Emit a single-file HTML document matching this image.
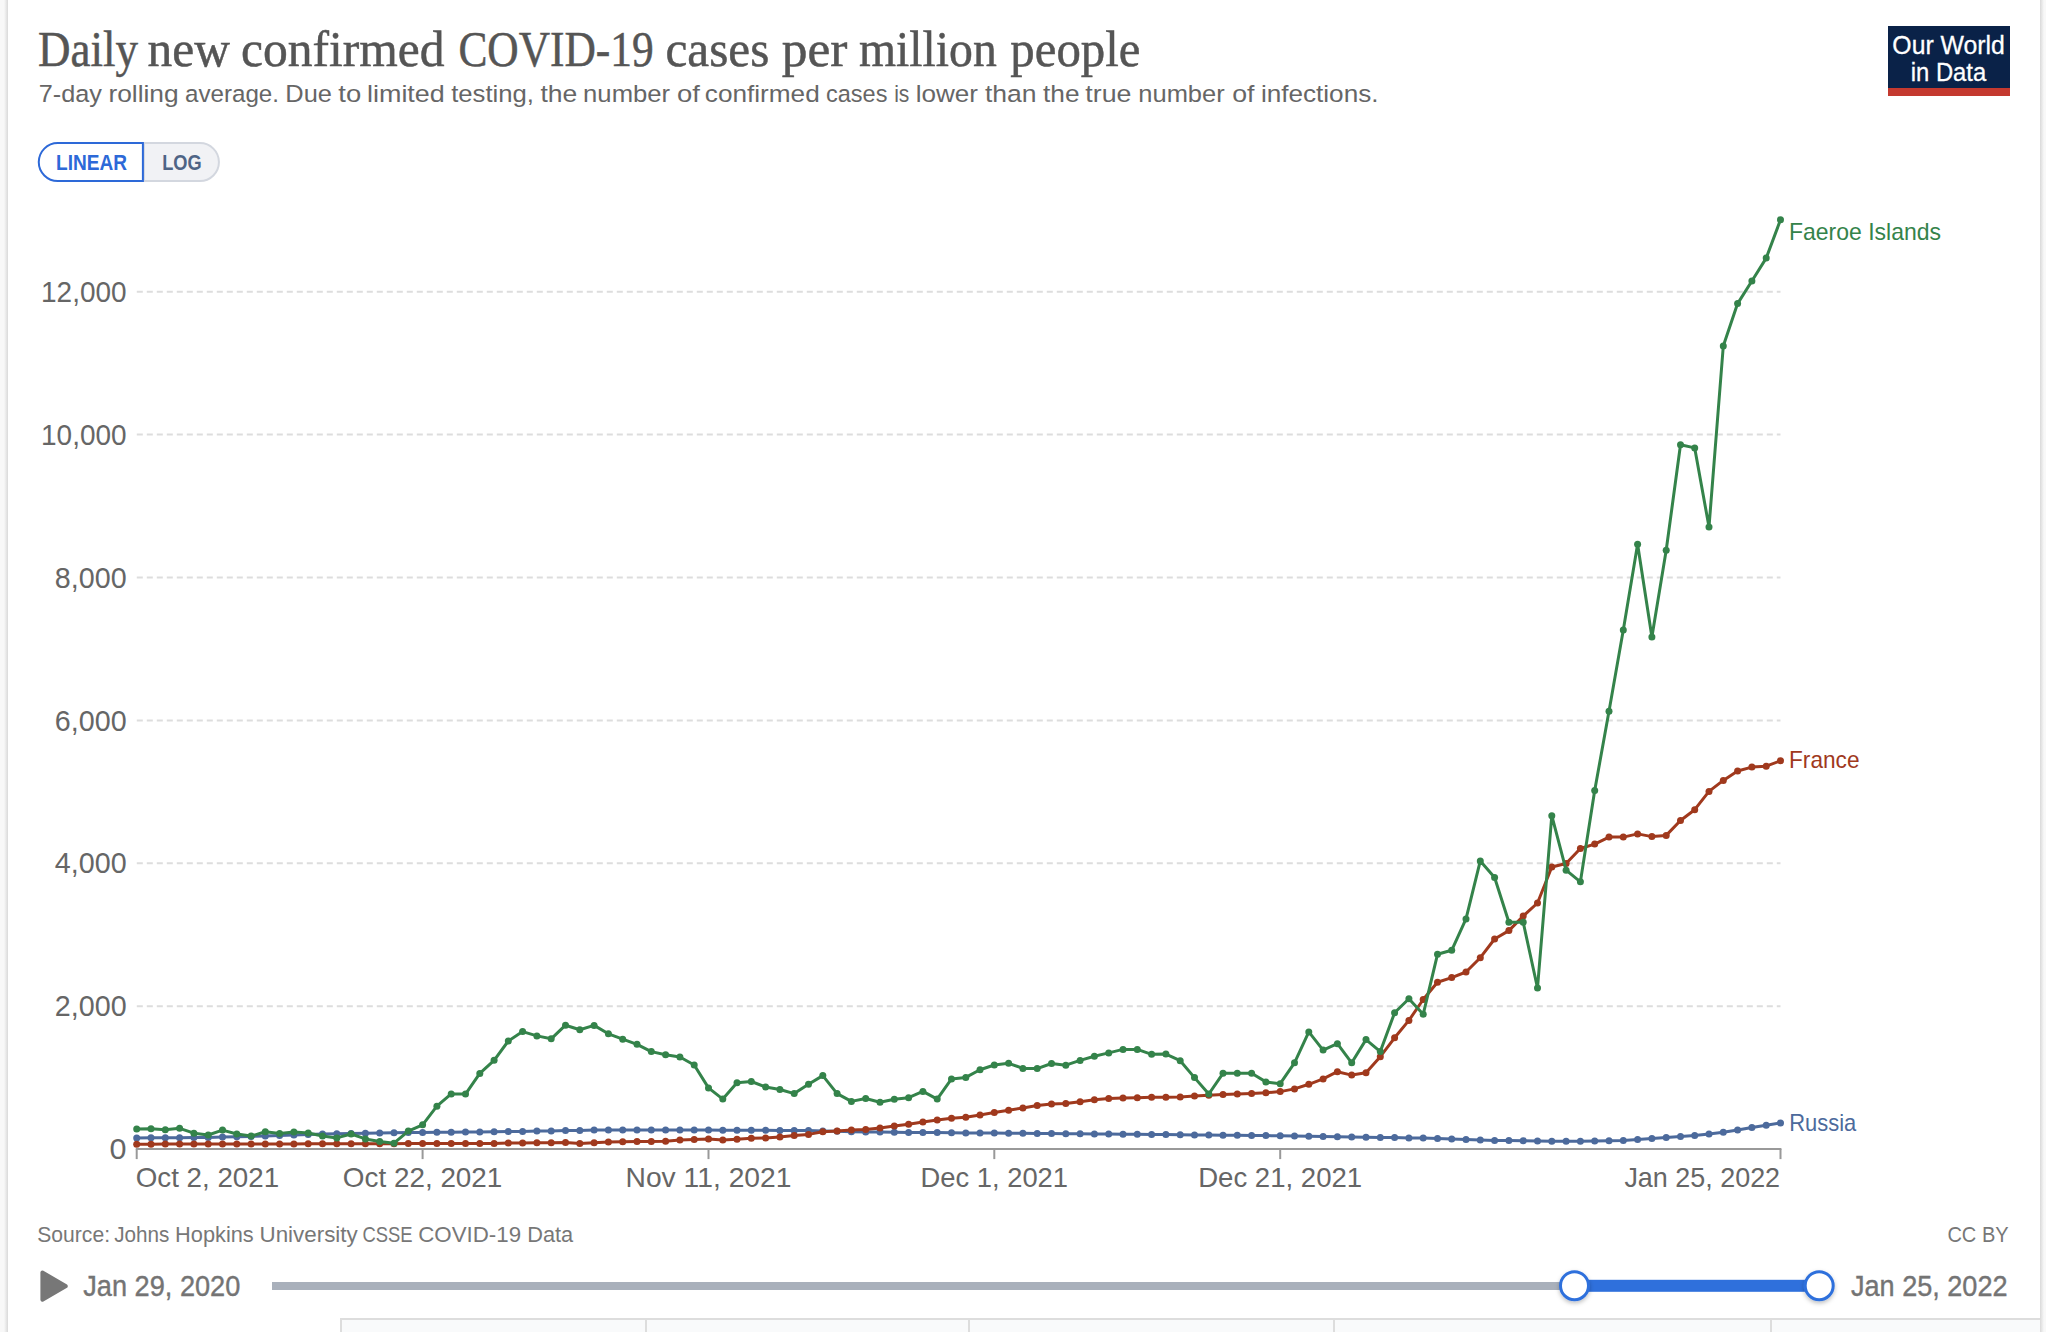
<!DOCTYPE html>
<html lang="en"><head><meta charset="utf-8"><title>Daily new confirmed COVID-19 cases per million people</title>
<style>
html,body{margin:0;padding:0;background:#f8f8f8;}
body{width:2046px;height:1332px;overflow:hidden;}
svg{display:block;}
text{font-family:"Liberation Sans",sans-serif;}
.serif{font-family:"Liberation Serif",serif;}
</style></head><body>
<svg width="2046" height="1332" viewBox="0 0 2046 1332">
<defs>
<linearGradient id="shl" x1="0" x2="1" y1="0" y2="0"><stop offset="0" stop-color="#f8f8f8"/><stop offset="1" stop-color="#d9d9d9"/></linearGradient>
<linearGradient id="shr" x1="0" x2="1" y1="0" y2="0"><stop offset="0" stop-color="#d9d9d9"/><stop offset="1" stop-color="#f8f8f8"/></linearGradient>
<filter id="hs" x="-30%" y="-30%" width="160%" height="170%"><feDropShadow dx="0" dy="2" stdDeviation="2" flood-color="#000" flood-opacity="0.25"/></filter>
</defs>
<rect x="0" y="0" width="2046" height="1332" fill="#f8f8f8"/>
<rect x="4" y="0" width="4" height="1332" fill="url(#shl)"/>
<rect x="2040" y="0" width="4" height="1332" fill="url(#shr)"/>
<rect x="8" y="0" width="2032" height="1332" fill="#ffffff"/>
<text class="serif" y="66.3" font-size="50" fill="#555" stroke="#555" stroke-width="0.5"><tspan x="38.1" textLength="100.0" lengthAdjust="spacingAndGlyphs">Daily</tspan> <tspan x="147.6" textLength="82.4" lengthAdjust="spacingAndGlyphs">new</tspan> <tspan x="241.0" textLength="203.6" lengthAdjust="spacingAndGlyphs">confirmed</tspan> <tspan x="458.4" textLength="195.3" lengthAdjust="spacingAndGlyphs">COVID-19</tspan> <tspan x="665.5" textLength="103.8" lengthAdjust="spacingAndGlyphs">cases</tspan> <tspan x="781.7" textLength="65.7" lengthAdjust="spacingAndGlyphs">per</tspan> <tspan x="859.0" textLength="137.8" lengthAdjust="spacingAndGlyphs">million</tspan> <tspan x="1010.3" textLength="130.2" lengthAdjust="spacingAndGlyphs">people</tspan></text>
<text y="101.5" font-size="24.5" fill="#666"><tspan x="38.8" textLength="63.2" lengthAdjust="spacingAndGlyphs">7-day</tspan> <tspan x="108.4" textLength="70.3" lengthAdjust="spacingAndGlyphs">rolling</tspan> <tspan x="185.0" textLength="94.0" lengthAdjust="spacingAndGlyphs">average.</tspan> <tspan x="285.3" textLength="46.6" lengthAdjust="spacingAndGlyphs">Due</tspan> <tspan x="338.3" textLength="22.9" lengthAdjust="spacingAndGlyphs">to</tspan> <tspan x="367.0" textLength="77.8" lengthAdjust="spacingAndGlyphs">limited</tspan> <tspan x="451.2" textLength="82.8" lengthAdjust="spacingAndGlyphs">testing,</tspan> <tspan x="540.4" textLength="36.9" lengthAdjust="spacingAndGlyphs">the</tspan> <tspan x="583.1" textLength="87.0" lengthAdjust="spacingAndGlyphs">number</tspan> <tspan x="677.0" textLength="22.9" lengthAdjust="spacingAndGlyphs">of</tspan> <tspan x="704.8" textLength="114.9" lengthAdjust="spacingAndGlyphs">confirmed</tspan> <tspan x="826.0" textLength="61.4" lengthAdjust="spacingAndGlyphs">cases</tspan> <tspan x="894.2" textLength="15.2" lengthAdjust="spacingAndGlyphs">is</tspan> <tspan x="915.7" textLength="62.3" lengthAdjust="spacingAndGlyphs">lower</tspan> <tspan x="985.0" textLength="51.6" lengthAdjust="spacingAndGlyphs">than</tspan> <tspan x="1043.0" textLength="36.5" lengthAdjust="spacingAndGlyphs">the</tspan> <tspan x="1085.3" textLength="46.1" lengthAdjust="spacingAndGlyphs">true</tspan> <tspan x="1138.3" textLength="86.4" lengthAdjust="spacingAndGlyphs">number</tspan> <tspan x="1232.2" textLength="22.3" lengthAdjust="spacingAndGlyphs">of</tspan> <tspan x="1260.9" textLength="117.6" lengthAdjust="spacingAndGlyphs">infections.</tspan></text>
<rect x="1888" y="26" width="122" height="70" fill="#0a2248"/><rect x="1888" y="88" width="122" height="8" fill="#c4392f"/>
<text x="1948.6" y="54.3" font-size="26.5" fill="#fff" stroke="#fff" stroke-width="0.3" text-anchor="middle" textLength="112.5" lengthAdjust="spacingAndGlyphs">Our World</text>
<text x="1948.5" y="80.6" font-size="26.5" fill="#fff" stroke="#fff" stroke-width="0.3" text-anchor="middle" textLength="75.5" lengthAdjust="spacingAndGlyphs">in Data</text>
<path d="M143.9,143 H219.7 V180.6 H143.9 Z" fill="none"/>
<path d="M143.9,143 H199.9 a19.05,19.05 0 0 1 0,38.1 H143.9 Z" fill="#f1f2f5" stroke="#d3d7df" stroke-width="2"/>
<path d="M142.9,143 H57.8 a19.05,19.05 0 0 0 0,38.1 H142.9 Z" fill="#fff" stroke="#2d69d8" stroke-width="2"/>
<text x="56" y="169.6" font-size="21.5" font-weight="bold" fill="#2d69d8" textLength="71" lengthAdjust="spacingAndGlyphs">LINEAR</text>
<text x="162.2" y="169.6" font-size="21.5" font-weight="bold" fill="#4e6485" textLength="39.5" lengthAdjust="spacingAndGlyphs">LOG</text>
<text x="126.6" y="1159.2" font-size="29.5" fill="#666" text-anchor="end" textLength="17.0" lengthAdjust="spacingAndGlyphs">0</text>
<line x1="136.8" x2="1780.5" y1="1006.2" y2="1006.2" stroke="#ddd" stroke-width="2" stroke-dasharray="6,4"/>
<text x="126.6" y="1016.3" font-size="29.5" fill="#666" text-anchor="end" textLength="71.8" lengthAdjust="spacingAndGlyphs">2,000</text>
<line x1="136.8" x2="1780.5" y1="863.3" y2="863.3" stroke="#ddd" stroke-width="2" stroke-dasharray="6,4"/>
<text x="126.6" y="873.4" font-size="29.5" fill="#666" text-anchor="end" textLength="71.8" lengthAdjust="spacingAndGlyphs">4,000</text>
<line x1="136.8" x2="1780.5" y1="720.4" y2="720.4" stroke="#ddd" stroke-width="2" stroke-dasharray="6,4"/>
<text x="126.6" y="730.5" font-size="29.5" fill="#666" text-anchor="end" textLength="71.8" lengthAdjust="spacingAndGlyphs">6,000</text>
<line x1="136.8" x2="1780.5" y1="577.5" y2="577.5" stroke="#ddd" stroke-width="2" stroke-dasharray="6,4"/>
<text x="126.6" y="587.6" font-size="29.5" fill="#666" text-anchor="end" textLength="71.8" lengthAdjust="spacingAndGlyphs">8,000</text>
<line x1="136.8" x2="1780.5" y1="434.6" y2="434.6" stroke="#ddd" stroke-width="2" stroke-dasharray="6,4"/>
<text x="126.6" y="444.7" font-size="29.5" fill="#666" text-anchor="end" textLength="85.6" lengthAdjust="spacingAndGlyphs">10,000</text>
<line x1="136.8" x2="1780.5" y1="291.7" y2="291.7" stroke="#ddd" stroke-width="2" stroke-dasharray="6,4"/>
<text x="126.6" y="301.8" font-size="29.5" fill="#666" text-anchor="end" textLength="85.6" lengthAdjust="spacingAndGlyphs">12,000</text>
<line x1="135.8" x2="1781.4" y1="1149.1" y2="1149.1" stroke="#999" stroke-width="2"/>
<line x1="136.7" x2="136.7" y1="1149.1" y2="1159.1" stroke="#999" stroke-width="2"/>
<text x="135.7" y="1187" font-size="27.5" fill="#666" text-anchor="start" textLength="143.5" lengthAdjust="spacingAndGlyphs">Oct 2, 2021</text>
<line x1="422.6" x2="422.6" y1="1149.1" y2="1159.1" stroke="#999" stroke-width="2"/>
<text x="422.6" y="1187" font-size="27.5" fill="#666" text-anchor="middle" textLength="159.5" lengthAdjust="spacingAndGlyphs">Oct 22, 2021</text>
<line x1="708.5" x2="708.5" y1="1149.1" y2="1159.1" stroke="#999" stroke-width="2"/>
<text x="708.5" y="1187" font-size="27.5" fill="#666" text-anchor="middle" textLength="166" lengthAdjust="spacingAndGlyphs">Nov 11, 2021</text>
<line x1="994.3" x2="994.3" y1="1149.1" y2="1159.1" stroke="#999" stroke-width="2"/>
<text x="994.3" y="1187" font-size="27.5" fill="#666" text-anchor="middle" textLength="147.5" lengthAdjust="spacingAndGlyphs">Dec 1, 2021</text>
<line x1="1280.2" x2="1280.2" y1="1149.1" y2="1159.1" stroke="#999" stroke-width="2"/>
<text x="1280.2" y="1187" font-size="27.5" fill="#666" text-anchor="middle" textLength="164" lengthAdjust="spacingAndGlyphs">Dec 21, 2021</text>
<line x1="1780.5" x2="1780.5" y1="1149.1" y2="1159.1" stroke="#999" stroke-width="2"/>
<text x="1780.1" y="1187" font-size="27.5" fill="#666" text-anchor="end" textLength="155.7" lengthAdjust="spacingAndGlyphs">Jan 25, 2022</text>
<polyline fill="none" stroke="#4c6a9c" stroke-width="3" stroke-linejoin="round" stroke-linecap="round" points="136.7,1137.9 151.0,1137.8 165.3,1137.7 179.6,1137.7 193.9,1137.6 208.2,1137.5 222.5,1137.1 236.8,1136.7 251.1,1136.4 265.3,1136.0 279.6,1135.6 293.9,1135.1 308.2,1134.5 322.5,1134.0 336.8,1133.7 351.1,1133.4 365.4,1133.2 379.7,1133.0 394.0,1132.8 408.3,1132.6 422.6,1132.4 436.9,1132.3 451.2,1132.2 465.5,1132.0 479.8,1131.9 494.1,1131.8 508.3,1131.6 522.6,1131.4 536.9,1131.1 551.2,1130.9 565.5,1130.6 579.8,1130.4 594.1,1130.1 608.4,1130.1 622.7,1130.1 637.0,1130.1 651.3,1130.1 665.6,1130.1 679.9,1130.1 694.2,1130.1 708.5,1130.1 722.8,1130.2 737.0,1130.2 751.3,1130.3 765.6,1130.3 779.9,1130.4 794.2,1130.4 808.5,1130.5 822.8,1130.9 837.1,1131.3 851.4,1131.7 865.7,1131.9 880.0,1132.1 894.3,1132.3 908.6,1132.4 922.9,1132.5 937.2,1132.6 951.5,1132.8 965.8,1132.9 980.0,1133.0 994.3,1133.1 1008.6,1133.2 1022.9,1133.3 1037.2,1133.5 1051.5,1133.6 1065.8,1133.7 1080.1,1133.8 1094.4,1133.9 1108.7,1134.1 1123.0,1134.2 1137.3,1134.3 1151.6,1134.4 1165.9,1134.6 1180.2,1134.7 1194.5,1134.9 1208.8,1135.0 1223.0,1135.2 1237.3,1135.3 1251.6,1135.5 1265.9,1135.6 1280.2,1135.8 1294.5,1136.0 1308.8,1136.3 1323.1,1136.5 1337.4,1136.7 1351.7,1136.9 1366.0,1137.2 1380.3,1137.4 1394.6,1137.6 1408.9,1137.9 1423.2,1138.1 1437.5,1138.6 1451.7,1139.0 1466.0,1139.5 1480.3,1139.9 1494.6,1140.4 1508.9,1140.6 1523.2,1140.8 1537.5,1141.0 1551.8,1141.2 1566.1,1141.2 1580.4,1141.2 1594.7,1141.1 1609.0,1140.7 1623.3,1140.4 1637.6,1139.5 1651.9,1138.6 1666.2,1137.4 1680.5,1136.5 1694.7,1135.4 1709.0,1134.0 1723.3,1132.3 1737.6,1130.1 1751.9,1127.5 1766.2,1125.2 1780.5,1122.9"/>
<g fill="#4c6a9c"><circle cx="136.7" cy="1137.9" r="3.5"/><circle cx="151.0" cy="1137.8" r="3.5"/><circle cx="165.3" cy="1137.7" r="3.5"/><circle cx="179.6" cy="1137.7" r="3.5"/><circle cx="193.9" cy="1137.6" r="3.5"/><circle cx="208.2" cy="1137.5" r="3.5"/><circle cx="222.5" cy="1137.1" r="3.5"/><circle cx="236.8" cy="1136.7" r="3.5"/><circle cx="251.1" cy="1136.4" r="3.5"/><circle cx="265.3" cy="1136.0" r="3.5"/><circle cx="279.6" cy="1135.6" r="3.5"/><circle cx="293.9" cy="1135.1" r="3.5"/><circle cx="308.2" cy="1134.5" r="3.5"/><circle cx="322.5" cy="1134.0" r="3.5"/><circle cx="336.8" cy="1133.7" r="3.5"/><circle cx="351.1" cy="1133.4" r="3.5"/><circle cx="365.4" cy="1133.2" r="3.5"/><circle cx="379.7" cy="1133.0" r="3.5"/><circle cx="394.0" cy="1132.8" r="3.5"/><circle cx="408.3" cy="1132.6" r="3.5"/><circle cx="422.6" cy="1132.4" r="3.5"/><circle cx="436.9" cy="1132.3" r="3.5"/><circle cx="451.2" cy="1132.2" r="3.5"/><circle cx="465.5" cy="1132.0" r="3.5"/><circle cx="479.8" cy="1131.9" r="3.5"/><circle cx="494.1" cy="1131.8" r="3.5"/><circle cx="508.3" cy="1131.6" r="3.5"/><circle cx="522.6" cy="1131.4" r="3.5"/><circle cx="536.9" cy="1131.1" r="3.5"/><circle cx="551.2" cy="1130.9" r="3.5"/><circle cx="565.5" cy="1130.6" r="3.5"/><circle cx="579.8" cy="1130.4" r="3.5"/><circle cx="594.1" cy="1130.1" r="3.5"/><circle cx="608.4" cy="1130.1" r="3.5"/><circle cx="622.7" cy="1130.1" r="3.5"/><circle cx="637.0" cy="1130.1" r="3.5"/><circle cx="651.3" cy="1130.1" r="3.5"/><circle cx="665.6" cy="1130.1" r="3.5"/><circle cx="679.9" cy="1130.1" r="3.5"/><circle cx="694.2" cy="1130.1" r="3.5"/><circle cx="708.5" cy="1130.1" r="3.5"/><circle cx="722.8" cy="1130.2" r="3.5"/><circle cx="737.0" cy="1130.2" r="3.5"/><circle cx="751.3" cy="1130.3" r="3.5"/><circle cx="765.6" cy="1130.3" r="3.5"/><circle cx="779.9" cy="1130.4" r="3.5"/><circle cx="794.2" cy="1130.4" r="3.5"/><circle cx="808.5" cy="1130.5" r="3.5"/><circle cx="822.8" cy="1130.9" r="3.5"/><circle cx="837.1" cy="1131.3" r="3.5"/><circle cx="851.4" cy="1131.7" r="3.5"/><circle cx="865.7" cy="1131.9" r="3.5"/><circle cx="880.0" cy="1132.1" r="3.5"/><circle cx="894.3" cy="1132.3" r="3.5"/><circle cx="908.6" cy="1132.4" r="3.5"/><circle cx="922.9" cy="1132.5" r="3.5"/><circle cx="937.2" cy="1132.6" r="3.5"/><circle cx="951.5" cy="1132.8" r="3.5"/><circle cx="965.8" cy="1132.9" r="3.5"/><circle cx="980.0" cy="1133.0" r="3.5"/><circle cx="994.3" cy="1133.1" r="3.5"/><circle cx="1008.6" cy="1133.2" r="3.5"/><circle cx="1022.9" cy="1133.3" r="3.5"/><circle cx="1037.2" cy="1133.5" r="3.5"/><circle cx="1051.5" cy="1133.6" r="3.5"/><circle cx="1065.8" cy="1133.7" r="3.5"/><circle cx="1080.1" cy="1133.8" r="3.5"/><circle cx="1094.4" cy="1133.9" r="3.5"/><circle cx="1108.7" cy="1134.1" r="3.5"/><circle cx="1123.0" cy="1134.2" r="3.5"/><circle cx="1137.3" cy="1134.3" r="3.5"/><circle cx="1151.6" cy="1134.4" r="3.5"/><circle cx="1165.9" cy="1134.6" r="3.5"/><circle cx="1180.2" cy="1134.7" r="3.5"/><circle cx="1194.5" cy="1134.9" r="3.5"/><circle cx="1208.8" cy="1135.0" r="3.5"/><circle cx="1223.0" cy="1135.2" r="3.5"/><circle cx="1237.3" cy="1135.3" r="3.5"/><circle cx="1251.6" cy="1135.5" r="3.5"/><circle cx="1265.9" cy="1135.6" r="3.5"/><circle cx="1280.2" cy="1135.8" r="3.5"/><circle cx="1294.5" cy="1136.0" r="3.5"/><circle cx="1308.8" cy="1136.3" r="3.5"/><circle cx="1323.1" cy="1136.5" r="3.5"/><circle cx="1337.4" cy="1136.7" r="3.5"/><circle cx="1351.7" cy="1136.9" r="3.5"/><circle cx="1366.0" cy="1137.2" r="3.5"/><circle cx="1380.3" cy="1137.4" r="3.5"/><circle cx="1394.6" cy="1137.6" r="3.5"/><circle cx="1408.9" cy="1137.9" r="3.5"/><circle cx="1423.2" cy="1138.1" r="3.5"/><circle cx="1437.5" cy="1138.6" r="3.5"/><circle cx="1451.7" cy="1139.0" r="3.5"/><circle cx="1466.0" cy="1139.5" r="3.5"/><circle cx="1480.3" cy="1139.9" r="3.5"/><circle cx="1494.6" cy="1140.4" r="3.5"/><circle cx="1508.9" cy="1140.6" r="3.5"/><circle cx="1523.2" cy="1140.8" r="3.5"/><circle cx="1537.5" cy="1141.0" r="3.5"/><circle cx="1551.8" cy="1141.2" r="3.5"/><circle cx="1566.1" cy="1141.2" r="3.5"/><circle cx="1580.4" cy="1141.2" r="3.5"/><circle cx="1594.7" cy="1141.1" r="3.5"/><circle cx="1609.0" cy="1140.7" r="3.5"/><circle cx="1623.3" cy="1140.4" r="3.5"/><circle cx="1637.6" cy="1139.5" r="3.5"/><circle cx="1651.9" cy="1138.6" r="3.5"/><circle cx="1666.2" cy="1137.4" r="3.5"/><circle cx="1680.5" cy="1136.5" r="3.5"/><circle cx="1694.7" cy="1135.4" r="3.5"/><circle cx="1709.0" cy="1134.0" r="3.5"/><circle cx="1723.3" cy="1132.3" r="3.5"/><circle cx="1737.6" cy="1130.1" r="3.5"/><circle cx="1751.9" cy="1127.5" r="3.5"/><circle cx="1766.2" cy="1125.2" r="3.5"/><circle cx="1780.5" cy="1122.9" r="3.5"/></g>
<polyline fill="none" stroke="#a0391d" stroke-width="3" stroke-linejoin="round" stroke-linecap="round" points="136.7,1144.2 151.0,1144.2 165.3,1144.1 179.6,1144.1 193.9,1144.1 208.2,1144.0 222.5,1144.0 236.8,1144.0 251.1,1144.0 265.3,1143.9 279.6,1143.9 293.9,1143.9 308.2,1143.8 322.5,1143.8 336.8,1143.8 351.1,1143.8 365.4,1143.7 379.7,1143.7 394.0,1143.7 408.3,1143.6 422.6,1143.6 436.9,1143.6 451.2,1143.5 465.5,1143.5 479.8,1143.5 494.1,1143.5 508.3,1142.9 522.6,1142.9 536.9,1142.8 551.2,1142.7 565.5,1142.5 579.8,1143.4 594.1,1142.7 608.4,1142.1 622.7,1141.8 637.0,1141.5 651.3,1141.4 665.6,1141.3 679.9,1139.9 694.2,1139.5 708.5,1139.1 722.8,1140.1 737.0,1139.3 751.3,1138.2 765.6,1138.0 779.9,1137.0 794.2,1135.6 808.5,1134.4 822.8,1131.7 837.1,1130.9 851.4,1130.0 865.7,1129.6 880.0,1128.0 894.3,1126.0 908.6,1124.3 922.9,1121.9 937.2,1120.0 951.5,1118.2 965.8,1117.2 980.0,1114.9 994.3,1112.6 1008.6,1110.2 1022.9,1107.9 1037.2,1105.5 1051.5,1104.1 1065.8,1103.6 1080.1,1101.8 1094.4,1099.8 1108.7,1098.5 1123.0,1097.9 1137.3,1097.7 1151.6,1097.3 1165.9,1097.3 1180.2,1096.9 1194.5,1096.1 1208.8,1095.3 1223.0,1094.6 1237.3,1094.0 1251.6,1093.4 1265.9,1092.8 1280.2,1091.6 1294.5,1088.9 1308.8,1084.3 1323.1,1078.9 1337.4,1071.7 1351.7,1075.1 1366.0,1072.8 1380.3,1056.7 1394.6,1037.8 1408.9,1020.4 1423.2,999.5 1437.5,982.2 1451.7,977.6 1466.0,972.0 1480.3,957.7 1494.6,939.0 1508.9,930.6 1523.2,916.1 1537.5,903.0 1551.8,867.0 1566.1,863.5 1580.4,848.5 1594.7,844.1 1609.0,837.1 1623.3,837.1 1637.6,833.9 1651.9,836.6 1666.2,835.4 1680.5,820.5 1694.7,809.7 1709.0,791.4 1723.3,780.4 1737.6,771.0 1751.9,767.1 1766.2,766.2 1780.5,760.8"/>
<g fill="#a0391d"><circle cx="136.7" cy="1144.2" r="3.5"/><circle cx="151.0" cy="1144.2" r="3.5"/><circle cx="165.3" cy="1144.1" r="3.5"/><circle cx="179.6" cy="1144.1" r="3.5"/><circle cx="193.9" cy="1144.1" r="3.5"/><circle cx="208.2" cy="1144.0" r="3.5"/><circle cx="222.5" cy="1144.0" r="3.5"/><circle cx="236.8" cy="1144.0" r="3.5"/><circle cx="251.1" cy="1144.0" r="3.5"/><circle cx="265.3" cy="1143.9" r="3.5"/><circle cx="279.6" cy="1143.9" r="3.5"/><circle cx="293.9" cy="1143.9" r="3.5"/><circle cx="308.2" cy="1143.8" r="3.5"/><circle cx="322.5" cy="1143.8" r="3.5"/><circle cx="336.8" cy="1143.8" r="3.5"/><circle cx="351.1" cy="1143.8" r="3.5"/><circle cx="365.4" cy="1143.7" r="3.5"/><circle cx="379.7" cy="1143.7" r="3.5"/><circle cx="394.0" cy="1143.7" r="3.5"/><circle cx="408.3" cy="1143.6" r="3.5"/><circle cx="422.6" cy="1143.6" r="3.5"/><circle cx="436.9" cy="1143.6" r="3.5"/><circle cx="451.2" cy="1143.5" r="3.5"/><circle cx="465.5" cy="1143.5" r="3.5"/><circle cx="479.8" cy="1143.5" r="3.5"/><circle cx="494.1" cy="1143.5" r="3.5"/><circle cx="508.3" cy="1142.9" r="3.5"/><circle cx="522.6" cy="1142.9" r="3.5"/><circle cx="536.9" cy="1142.8" r="3.5"/><circle cx="551.2" cy="1142.7" r="3.5"/><circle cx="565.5" cy="1142.5" r="3.5"/><circle cx="579.8" cy="1143.4" r="3.5"/><circle cx="594.1" cy="1142.7" r="3.5"/><circle cx="608.4" cy="1142.1" r="3.5"/><circle cx="622.7" cy="1141.8" r="3.5"/><circle cx="637.0" cy="1141.5" r="3.5"/><circle cx="651.3" cy="1141.4" r="3.5"/><circle cx="665.6" cy="1141.3" r="3.5"/><circle cx="679.9" cy="1139.9" r="3.5"/><circle cx="694.2" cy="1139.5" r="3.5"/><circle cx="708.5" cy="1139.1" r="3.5"/><circle cx="722.8" cy="1140.1" r="3.5"/><circle cx="737.0" cy="1139.3" r="3.5"/><circle cx="751.3" cy="1138.2" r="3.5"/><circle cx="765.6" cy="1138.0" r="3.5"/><circle cx="779.9" cy="1137.0" r="3.5"/><circle cx="794.2" cy="1135.6" r="3.5"/><circle cx="808.5" cy="1134.4" r="3.5"/><circle cx="822.8" cy="1131.7" r="3.5"/><circle cx="837.1" cy="1130.9" r="3.5"/><circle cx="851.4" cy="1130.0" r="3.5"/><circle cx="865.7" cy="1129.6" r="3.5"/><circle cx="880.0" cy="1128.0" r="3.5"/><circle cx="894.3" cy="1126.0" r="3.5"/><circle cx="908.6" cy="1124.3" r="3.5"/><circle cx="922.9" cy="1121.9" r="3.5"/><circle cx="937.2" cy="1120.0" r="3.5"/><circle cx="951.5" cy="1118.2" r="3.5"/><circle cx="965.8" cy="1117.2" r="3.5"/><circle cx="980.0" cy="1114.9" r="3.5"/><circle cx="994.3" cy="1112.6" r="3.5"/><circle cx="1008.6" cy="1110.2" r="3.5"/><circle cx="1022.9" cy="1107.9" r="3.5"/><circle cx="1037.2" cy="1105.5" r="3.5"/><circle cx="1051.5" cy="1104.1" r="3.5"/><circle cx="1065.8" cy="1103.6" r="3.5"/><circle cx="1080.1" cy="1101.8" r="3.5"/><circle cx="1094.4" cy="1099.8" r="3.5"/><circle cx="1108.7" cy="1098.5" r="3.5"/><circle cx="1123.0" cy="1097.9" r="3.5"/><circle cx="1137.3" cy="1097.7" r="3.5"/><circle cx="1151.6" cy="1097.3" r="3.5"/><circle cx="1165.9" cy="1097.3" r="3.5"/><circle cx="1180.2" cy="1096.9" r="3.5"/><circle cx="1194.5" cy="1096.1" r="3.5"/><circle cx="1208.8" cy="1095.3" r="3.5"/><circle cx="1223.0" cy="1094.6" r="3.5"/><circle cx="1237.3" cy="1094.0" r="3.5"/><circle cx="1251.6" cy="1093.4" r="3.5"/><circle cx="1265.9" cy="1092.8" r="3.5"/><circle cx="1280.2" cy="1091.6" r="3.5"/><circle cx="1294.5" cy="1088.9" r="3.5"/><circle cx="1308.8" cy="1084.3" r="3.5"/><circle cx="1323.1" cy="1078.9" r="3.5"/><circle cx="1337.4" cy="1071.7" r="3.5"/><circle cx="1351.7" cy="1075.1" r="3.5"/><circle cx="1366.0" cy="1072.8" r="3.5"/><circle cx="1380.3" cy="1056.7" r="3.5"/><circle cx="1394.6" cy="1037.8" r="3.5"/><circle cx="1408.9" cy="1020.4" r="3.5"/><circle cx="1423.2" cy="999.5" r="3.5"/><circle cx="1437.5" cy="982.2" r="3.5"/><circle cx="1451.7" cy="977.6" r="3.5"/><circle cx="1466.0" cy="972.0" r="3.5"/><circle cx="1480.3" cy="957.7" r="3.5"/><circle cx="1494.6" cy="939.0" r="3.5"/><circle cx="1508.9" cy="930.6" r="3.5"/><circle cx="1523.2" cy="916.1" r="3.5"/><circle cx="1537.5" cy="903.0" r="3.5"/><circle cx="1551.8" cy="867.0" r="3.5"/><circle cx="1566.1" cy="863.5" r="3.5"/><circle cx="1580.4" cy="848.5" r="3.5"/><circle cx="1594.7" cy="844.1" r="3.5"/><circle cx="1609.0" cy="837.1" r="3.5"/><circle cx="1623.3" cy="837.1" r="3.5"/><circle cx="1637.6" cy="833.9" r="3.5"/><circle cx="1651.9" cy="836.6" r="3.5"/><circle cx="1666.2" cy="835.4" r="3.5"/><circle cx="1680.5" cy="820.5" r="3.5"/><circle cx="1694.7" cy="809.7" r="3.5"/><circle cx="1709.0" cy="791.4" r="3.5"/><circle cx="1723.3" cy="780.4" r="3.5"/><circle cx="1737.6" cy="771.0" r="3.5"/><circle cx="1751.9" cy="767.1" r="3.5"/><circle cx="1766.2" cy="766.2" r="3.5"/><circle cx="1780.5" cy="760.8" r="3.5"/></g>
<polyline fill="none" stroke="#34834a" stroke-width="3" stroke-linejoin="round" stroke-linecap="round" points="136.7,1129.1 151.0,1128.7 165.3,1129.7 179.6,1128.3 193.9,1133.2 208.2,1135.0 222.5,1130.1 236.8,1134.0 251.1,1136.1 265.3,1131.7 279.6,1133.6 293.9,1132.0 308.2,1133.0 322.5,1136.0 336.8,1137.9 351.1,1134.0 365.4,1138.9 379.7,1141.4 394.0,1143.2 408.3,1131.1 422.6,1124.8 436.9,1106.2 451.2,1093.9 465.5,1094.1 479.8,1073.4 494.1,1060.3 508.3,1041.0 522.6,1031.6 536.9,1035.9 551.2,1038.8 565.5,1025.2 579.8,1029.7 594.1,1025.4 608.4,1033.8 622.7,1039.2 637.0,1044.3 651.3,1051.6 665.6,1054.7 679.9,1057.0 694.2,1065.0 708.5,1087.9 722.8,1099.1 737.0,1082.8 751.3,1081.5 765.6,1086.9 779.9,1089.5 794.2,1093.6 808.5,1084.2 822.8,1075.6 837.1,1093.6 851.4,1101.4 865.7,1098.5 880.0,1102.2 894.3,1099.3 908.6,1097.7 922.9,1091.4 937.2,1099.1 951.5,1078.9 965.8,1077.4 980.0,1069.7 994.3,1065.0 1008.6,1063.3 1022.9,1068.4 1037.2,1068.6 1051.5,1063.5 1065.8,1065.2 1080.1,1060.4 1094.4,1056.2 1108.7,1052.9 1123.0,1049.4 1137.3,1049.4 1151.6,1054.3 1165.9,1054.1 1180.2,1060.7 1194.5,1077.6 1208.8,1094.0 1223.0,1073.3 1237.3,1073.3 1251.6,1073.3 1265.9,1081.9 1280.2,1083.7 1294.5,1062.8 1308.8,1031.9 1323.1,1050.1 1337.4,1043.7 1351.7,1062.8 1366.0,1039.6 1380.3,1051.6 1394.6,1012.8 1408.9,998.8 1423.2,1014.3 1437.5,954.3 1451.7,950.3 1466.0,918.9 1480.3,860.9 1494.6,877.5 1508.9,922.2 1523.2,922.2 1537.5,988.0 1551.8,815.7 1566.1,870.2 1580.4,881.8 1594.7,790.5 1609.0,711.2 1623.3,630.1 1637.6,544.3 1651.9,637.0 1666.2,550.3 1680.5,444.8 1694.7,447.9 1709.0,527.0 1723.3,346.0 1737.6,303.6 1751.9,281.0 1766.2,258.1 1780.5,219.8"/>
<g fill="#34834a"><circle cx="136.7" cy="1129.1" r="3.5"/><circle cx="151.0" cy="1128.7" r="3.5"/><circle cx="165.3" cy="1129.7" r="3.5"/><circle cx="179.6" cy="1128.3" r="3.5"/><circle cx="193.9" cy="1133.2" r="3.5"/><circle cx="208.2" cy="1135.0" r="3.5"/><circle cx="222.5" cy="1130.1" r="3.5"/><circle cx="236.8" cy="1134.0" r="3.5"/><circle cx="251.1" cy="1136.1" r="3.5"/><circle cx="265.3" cy="1131.7" r="3.5"/><circle cx="279.6" cy="1133.6" r="3.5"/><circle cx="293.9" cy="1132.0" r="3.5"/><circle cx="308.2" cy="1133.0" r="3.5"/><circle cx="322.5" cy="1136.0" r="3.5"/><circle cx="336.8" cy="1137.9" r="3.5"/><circle cx="351.1" cy="1134.0" r="3.5"/><circle cx="365.4" cy="1138.9" r="3.5"/><circle cx="379.7" cy="1141.4" r="3.5"/><circle cx="394.0" cy="1143.2" r="3.5"/><circle cx="408.3" cy="1131.1" r="3.5"/><circle cx="422.6" cy="1124.8" r="3.5"/><circle cx="436.9" cy="1106.2" r="3.5"/><circle cx="451.2" cy="1093.9" r="3.5"/><circle cx="465.5" cy="1094.1" r="3.5"/><circle cx="479.8" cy="1073.4" r="3.5"/><circle cx="494.1" cy="1060.3" r="3.5"/><circle cx="508.3" cy="1041.0" r="3.5"/><circle cx="522.6" cy="1031.6" r="3.5"/><circle cx="536.9" cy="1035.9" r="3.5"/><circle cx="551.2" cy="1038.8" r="3.5"/><circle cx="565.5" cy="1025.2" r="3.5"/><circle cx="579.8" cy="1029.7" r="3.5"/><circle cx="594.1" cy="1025.4" r="3.5"/><circle cx="608.4" cy="1033.8" r="3.5"/><circle cx="622.7" cy="1039.2" r="3.5"/><circle cx="637.0" cy="1044.3" r="3.5"/><circle cx="651.3" cy="1051.6" r="3.5"/><circle cx="665.6" cy="1054.7" r="3.5"/><circle cx="679.9" cy="1057.0" r="3.5"/><circle cx="694.2" cy="1065.0" r="3.5"/><circle cx="708.5" cy="1087.9" r="3.5"/><circle cx="722.8" cy="1099.1" r="3.5"/><circle cx="737.0" cy="1082.8" r="3.5"/><circle cx="751.3" cy="1081.5" r="3.5"/><circle cx="765.6" cy="1086.9" r="3.5"/><circle cx="779.9" cy="1089.5" r="3.5"/><circle cx="794.2" cy="1093.6" r="3.5"/><circle cx="808.5" cy="1084.2" r="3.5"/><circle cx="822.8" cy="1075.6" r="3.5"/><circle cx="837.1" cy="1093.6" r="3.5"/><circle cx="851.4" cy="1101.4" r="3.5"/><circle cx="865.7" cy="1098.5" r="3.5"/><circle cx="880.0" cy="1102.2" r="3.5"/><circle cx="894.3" cy="1099.3" r="3.5"/><circle cx="908.6" cy="1097.7" r="3.5"/><circle cx="922.9" cy="1091.4" r="3.5"/><circle cx="937.2" cy="1099.1" r="3.5"/><circle cx="951.5" cy="1078.9" r="3.5"/><circle cx="965.8" cy="1077.4" r="3.5"/><circle cx="980.0" cy="1069.7" r="3.5"/><circle cx="994.3" cy="1065.0" r="3.5"/><circle cx="1008.6" cy="1063.3" r="3.5"/><circle cx="1022.9" cy="1068.4" r="3.5"/><circle cx="1037.2" cy="1068.6" r="3.5"/><circle cx="1051.5" cy="1063.5" r="3.5"/><circle cx="1065.8" cy="1065.2" r="3.5"/><circle cx="1080.1" cy="1060.4" r="3.5"/><circle cx="1094.4" cy="1056.2" r="3.5"/><circle cx="1108.7" cy="1052.9" r="3.5"/><circle cx="1123.0" cy="1049.4" r="3.5"/><circle cx="1137.3" cy="1049.4" r="3.5"/><circle cx="1151.6" cy="1054.3" r="3.5"/><circle cx="1165.9" cy="1054.1" r="3.5"/><circle cx="1180.2" cy="1060.7" r="3.5"/><circle cx="1194.5" cy="1077.6" r="3.5"/><circle cx="1208.8" cy="1094.0" r="3.5"/><circle cx="1223.0" cy="1073.3" r="3.5"/><circle cx="1237.3" cy="1073.3" r="3.5"/><circle cx="1251.6" cy="1073.3" r="3.5"/><circle cx="1265.9" cy="1081.9" r="3.5"/><circle cx="1280.2" cy="1083.7" r="3.5"/><circle cx="1294.5" cy="1062.8" r="3.5"/><circle cx="1308.8" cy="1031.9" r="3.5"/><circle cx="1323.1" cy="1050.1" r="3.5"/><circle cx="1337.4" cy="1043.7" r="3.5"/><circle cx="1351.7" cy="1062.8" r="3.5"/><circle cx="1366.0" cy="1039.6" r="3.5"/><circle cx="1380.3" cy="1051.6" r="3.5"/><circle cx="1394.6" cy="1012.8" r="3.5"/><circle cx="1408.9" cy="998.8" r="3.5"/><circle cx="1423.2" cy="1014.3" r="3.5"/><circle cx="1437.5" cy="954.3" r="3.5"/><circle cx="1451.7" cy="950.3" r="3.5"/><circle cx="1466.0" cy="918.9" r="3.5"/><circle cx="1480.3" cy="860.9" r="3.5"/><circle cx="1494.6" cy="877.5" r="3.5"/><circle cx="1508.9" cy="922.2" r="3.5"/><circle cx="1523.2" cy="922.2" r="3.5"/><circle cx="1537.5" cy="988.0" r="3.5"/><circle cx="1551.8" cy="815.7" r="3.5"/><circle cx="1566.1" cy="870.2" r="3.5"/><circle cx="1580.4" cy="881.8" r="3.5"/><circle cx="1594.7" cy="790.5" r="3.5"/><circle cx="1609.0" cy="711.2" r="3.5"/><circle cx="1623.3" cy="630.1" r="3.5"/><circle cx="1637.6" cy="544.3" r="3.5"/><circle cx="1651.9" cy="637.0" r="3.5"/><circle cx="1666.2" cy="550.3" r="3.5"/><circle cx="1680.5" cy="444.8" r="3.5"/><circle cx="1694.7" cy="447.9" r="3.5"/><circle cx="1709.0" cy="527.0" r="3.5"/><circle cx="1723.3" cy="346.0" r="3.5"/><circle cx="1737.6" cy="303.6" r="3.5"/><circle cx="1751.9" cy="281.0" r="3.5"/><circle cx="1766.2" cy="258.1" r="3.5"/><circle cx="1780.5" cy="219.8" r="3.5"/></g>
<text x="1789" y="239.6" font-size="24" fill="#34834a" textLength="152" lengthAdjust="spacingAndGlyphs">Faeroe Islands</text>
<text x="1789" y="767.8" font-size="24" fill="#a0391d" textLength="70.5" lengthAdjust="spacingAndGlyphs">France</text>
<text x="1789.2" y="1130.8" font-size="24" fill="#4c6a9c" textLength="67" lengthAdjust="spacingAndGlyphs">Russia</text>
<text y="1242.4" font-size="22" fill="#777"><tspan x="37.3" textLength="72.7" lengthAdjust="spacingAndGlyphs">Source:</tspan> <tspan x="114.2" textLength="55.2" lengthAdjust="spacingAndGlyphs">Johns</tspan> <tspan x="175.1" textLength="78.6" lengthAdjust="spacingAndGlyphs">Hopkins</tspan> <tspan x="259.5" textLength="98.2" lengthAdjust="spacingAndGlyphs">University</tspan> <tspan x="362.4" textLength="50.1" lengthAdjust="spacingAndGlyphs">CSSE</tspan> <tspan x="418.2" textLength="102.9" lengthAdjust="spacingAndGlyphs">COVID-19</tspan> <tspan x="527.2" textLength="46.0" lengthAdjust="spacingAndGlyphs">Data</tspan></text>
<text x="2008.7" y="1242.4" font-size="22" fill="#777" text-anchor="end" textLength="61.3" lengthAdjust="spacingAndGlyphs">CC BY</text>
<path d="M40.4,1272.3 a2,2 0 0 1 3,-1.6 L67,1284.6 a2,2 0 0 1 0,3.2 L43.4,1301.4 a2,2 0 0 1 -3,-1.6 Z" fill="#777"/>
<text x="83.3" y="1296.2" font-size="30" fill="#747474" stroke="#747474" stroke-width="0.4" textLength="157" lengthAdjust="spacingAndGlyphs">Jan 29, 2020</text>
<rect x="272" y="1282" width="1305" height="8" fill="#a9b0bb"/>
<rect x="1574.5" y="1279.8" width="245" height="12" fill="#2f70dc"/>
<circle cx="1574.5" cy="1285.7" r="14" fill="#fff" stroke="#2f70dc" stroke-width="3" filter="url(#hs)"/>
<circle cx="1819.2" cy="1285.7" r="14" fill="#fff" stroke="#2f70dc" stroke-width="3" filter="url(#hs)"/>
<text x="1851" y="1296.2" font-size="30" fill="#747474" stroke="#747474" stroke-width="0.4" textLength="156.5" lengthAdjust="spacingAndGlyphs">Jan 25, 2022</text>
<rect x="340" y="1318" width="1700" height="14" fill="#f9fafb"/>
<rect x="340" y="1318" width="1700" height="2" fill="#ddd"/>
<rect x="340" y="1318" width="2" height="14" fill="#ddd"/>
<rect x="645" y="1318" width="2" height="14" fill="#ddd"/>
<rect x="968" y="1318" width="2" height="14" fill="#ddd"/>
<rect x="1333" y="1318" width="2" height="14" fill="#ddd"/>
<rect x="1770" y="1318" width="2" height="14" fill="#ddd"/>
</svg></body></html>
